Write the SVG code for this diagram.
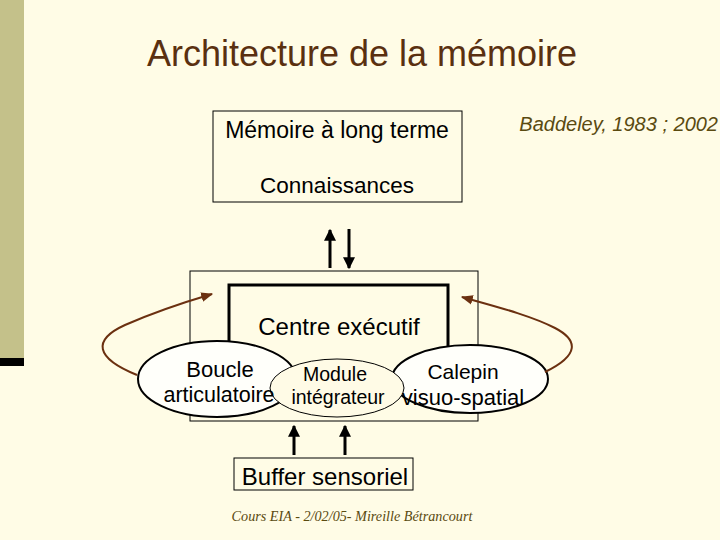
<svg xmlns="http://www.w3.org/2000/svg" width="720" height="540" viewBox="0 0 720 540">
<defs>
<marker id="ah" viewBox="0 0 10 10" refX="9" refY="5" markerWidth="4" markerHeight="4" orient="auto" markerUnits="strokeWidth"><path d="M0,0 L10,5 L0,10 z" fill="#000"/></marker>
<marker id="ahb" viewBox="0 0 10 10" refX="9" refY="5" markerWidth="6" markerHeight="6" orient="auto" markerUnits="strokeWidth"><path d="M0,1 L10,5 L0,9 z" fill="#6b3010"/></marker>
</defs>
<style>
.t{font-family:"Liberation Sans",Arial,sans-serif;fill:#000;text-anchor:middle}
.box{fill:none;stroke:#000;stroke-width:1}
.ell{stroke:#000;stroke-width:2}
.ar{stroke:#000;stroke-width:3;fill:none}
.cv{stroke:#6b3010;stroke-width:2;fill:none}
</style>
<rect width="720" height="540" fill="#fffce6"/>
<rect x="0" y="0" width="24" height="358" fill="#c4c18a"/>
<rect x="0" y="358" width="24" height="8" fill="#000"/>
<text x="362" y="66" class="t" style="font-size:36px;fill:#5a3010">Architecture de la mémoire</text>
<text x="718" y="131" class="t" style="font-size:20px;font-style:italic;fill:#5a4a10;text-anchor:end">Baddeley, 1983 ; 2002</text>
<g id="ltm">
<rect x="213" y="111" width="249" height="91" class="box"/>
<text x="337" y="138" class="t" style="font-size:23px">Mémoire à long terme</text>
<text x="337" y="193" class="t" style="font-size:22.5px">Connaissances</text>
</g>
<g id="wm">
<rect x="190" y="271" width="288" height="150" class="box"/>
</g>
<g id="ce">
<rect x="229" y="285" width="219" height="90" fill="#fffce6" stroke="#000" stroke-width="3"/>
<text x="339" y="335" class="t" style="font-size:24px">Centre exécutif</text>
</g>
<g id="boucle">
<ellipse cx="217" cy="379" rx="79" ry="38" fill="#fffffa" class="ell"/>
</g>
<g id="calepin">
<ellipse cx="470" cy="379" rx="78" ry="34" fill="#fffffa" class="ell"/>
</g>
<g id="module">
<ellipse cx="337" cy="388" rx="67" ry="29" fill="#fffbe6" stroke="#000" stroke-width="1"/>
</g>
<text x="220" y="377" class="t" style="font-size:22px">Boucle</text>
<text x="219" y="402" class="t" style="font-size:21.5px">articulatoire</text>
<text x="335" y="381" class="t" style="font-size:19.5px">Module</text>
<text x="338" y="404" class="t" style="font-size:19.5px">intégrateur</text>
<text x="463" y="379" class="t" style="font-size:21px">Calepin</text>
<text x="463" y="405" class="t" style="font-size:22px">visuo-spatial</text>
<g id="buffer">
<rect x="234" y="458" width="179" height="32" class="box"/>
<text x="325" y="485" class="t" style="font-size:24px">Buffer sensoriel</text>
</g>
<g id="connectors">
<line x1="330" y1="268" x2="330" y2="230" class="ar" marker-end="url(#ah)"/>
<line x1="349" y1="229" x2="349" y2="268" class="ar" marker-end="url(#ah)"/>
<line x1="294" y1="455" x2="294" y2="426" class="ar" marker-end="url(#ah)"/>
<line x1="345" y1="455" x2="345" y2="426" class="ar" marker-end="url(#ah)"/>
<path d="M137 375 C 95 358, 92 340, 125 325 C 150 314, 185 302, 212 294" class="cv" marker-end="url(#ahb)"/>
<path d="M545 372 C 580 355, 578 340, 555 328 C 530 315, 490 305, 462 297" class="cv" marker-end="url(#ahb)"/>
</g>
<text x="352" y="521" style="font-family:'Liberation Serif','Times New Roman',serif;font-style:italic;font-size:14.2px;fill:#5a4a10;text-anchor:middle">Cours EIA - 2/02/05- Mireille Bétrancourt</text>
</svg>
